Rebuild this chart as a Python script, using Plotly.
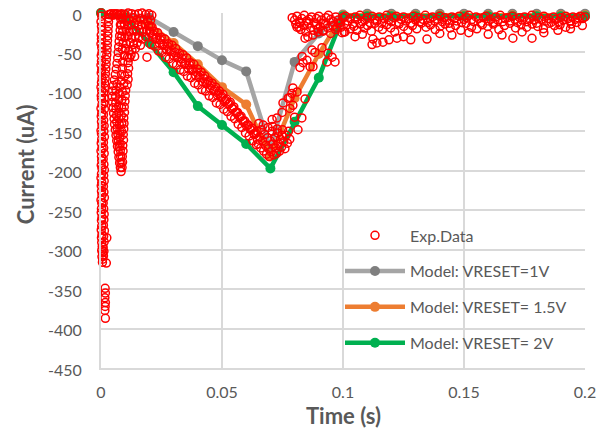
import plotly.graph_objects as go

# ---------------- Model curves ----------------
model_t = [0.00, 0.01, 0.02, 0.03, 0.04, 0.05, 0.06, 0.07, 0.08, 0.09, 0.10,
           0.11, 0.12, 0.13, 0.14, 0.15, 0.16, 0.17, 0.18, 0.19, 0.20]
model_1v = [0, -2, -6, -24, -42, -60, -74, -172, -62, -26, -2,
            -1, -1, -1, -1, -1, -1, -1, -1, -1, -1]
model_15v = [0, -4, -15, -38, -65, -94, -116, -182, -108, -52, -3,
             -3, -3, -3, -3, -3, -3, -3, -3, -3, -3]
model_2v = [0, -6, -38, -75, -118, -142, -166, -197, -138, -82, -4,
            -4, -4, -4, -4, -4, -4, -4, -4, -4, -4]

spike_t = [0.0001, 0.0003, 0.0000, 0.0002, 0.0004, 0.0001, 0.0002, 0.0000, 0.0003, 0.0004,
           0.0001, 0.0002, 0.0000, 0.0003, 0.0001, 0.0004, 0.0002, 0.0000, 0.0003, 0.0001,
           0.0002, 0.0004, 0.0000, 0.0003, 0.0001, 0.0002, 0.0004, 0.0000, 0.0002, 0.0003,
           0.0001, 0.0004, 0.0000, 0.0002, 0.0003, 0.0001, 0.0004, 0.0002, 0.0000, 0.0003,
           0.0001, 0.0002, 0.0004, 0.0000, 0.0003, 0.0002, 0.0001, 0.0004, 0.0002, 0.0003,
           0.0001, 0.0004, 0.0002, 0.0003, 0.0005, 0.0003, 0.0006, 0.0004, 0.0007, 0.0006]
spike_i = [0, -4, -11, -17, -22, -28, -33, -39, -44, -50, -54, -61, -66, -72, -76, -83, -88, -94,
           -99, -105, -109, -116, -121, -127, -131, -138, -143, -149, -153, -160, -165, -171, -175,
           -182, -187, -193, -197, -204, -209, -215, -219, -226, -231, -237, -241, -248, -253, -259,
           -263, -270, -275, -281, -285, -291, -296, -301, -304, -309, -312, -316]

spike_out_t = [0.0024, 0.0022, 0.0017, 0.0018, 0.0016, 0.0018, 0.0017, 0.0016, 0.0018]
spike_out_i = [-285, -317, -349, -355, -361, -367, -372, -377, -387]

return_t = [0.0010, 0.0012, 0.0009, 0.0013, 0.0011, 0.0014, 0.0010, 0.0012, 0.0013, 0.0011,
            0.0009, 0.0014, 0.0012, 0.0010, 0.0013, 0.0011, 0.0014, 0.0012, 0.0009, 0.0013,
            0.0011, 0.0010, 0.0014, 0.0012, 0.0013, 0.0011, 0.0010, 0.0014, 0.0012, 0.0013,
            0.0011, 0.0014, 0.0015, 0.0017, 0.0018, 0.0020, 0.0021, 0.0022, 0.0024, 0.0025,
            0.0026, 0.0027, 0.0028, 0.0029, 0.0030, 0.0031, 0.0032, 0.0033]
return_i = [-308, -302, -297, -290, -283, -276, -269, -262, -255, -248, -241, -234, -227, -220,
            -213, -206, -199, -192, -185, -178, -171, -164, -157, -150, -143, -136, -129, -122,
            -115, -108, -101, -95, -89, -83, -77, -71, -65, -59, -53, -47, -41, -35, -29, -23,
            -17, -11, -6, -2]

flat_t = [0.0036, 0.0042, 0.0048, 0.0054, 0.0060, 0.0066, 0.0072, 0.0078]
flat_i = [-2, -1, -3, -1, -2, -1, -3, -2]

dip_left_t = [0.0082, 0.0080, 0.0079, 0.0077, 0.0075, 0.0073, 0.0071, 0.0069, 0.0066, 0.0063,
              0.0059, 0.0055, 0.0051, 0.0048, 0.0047, 0.0048, 0.0050, 0.0052, 0.0054, 0.0056,
              0.0059, 0.0062, 0.0065, 0.0068, 0.0071, 0.0074, 0.0077, 0.0080, 0.0083]
dip_left_i = [-8, -15, -22, -29, -36, -43, -50, -57, -64, -71, -78, -85, -92, -99, -106, -113,
              -120, -127, -134, -141, -148, -155, -162, -169, -176, -183, -190, -196, -201]

dip_right_t = [0.0087, 0.0089, 0.0088, 0.0091, 0.0090, 0.0093, 0.0092, 0.0094, 0.0095, 0.0094,
               0.0097, 0.0096, 0.0099, 0.0100, 0.0102, 0.0108, 0.0112, 0.0110, 0.0114, 0.0112,
               0.0118]
dip_right_i = [-196, -189, -182, -175, -168, -161, -154, -147, -140, -133, -126, -119, -112,
               -105, -98, -91, -84, -77, -70, -63, -57]

dip_mid_t = [0.0090, 0.0088, 0.0085, 0.0084, 0.0078, 0.0075, 0.0073, 0.0073, 0.0074, 0.0074,
             0.0076, 0.0077, 0.0078, 0.0079, 0.0080, 0.0081, 0.0083]
dip_mid_i = [-62, -70, -78, -86, -94, -102, -110, -118, -126, -134, -142, -150, -158, -166,
             -174, -182, -190]

dip_fill_t = [0.0066, 0.0062, 0.0060, 0.0061, 0.0062, 0.0064, 0.0065, 0.0067, 0.0070, 0.0072,
              0.0075, 0.0098, 0.0094, 0.0088, 0.0086, 0.0085, 0.0084, 0.0086, 0.0085]
dip_fill_i = [-90, -98, -106, -114, -122, -130, -138, -146, -154, -162,
              -170, -80, -90, -100, -110, -120, -130, -140, -150]

cloud_t = [0.0085, 0.0098, 0.0112, 0.0126, 0.0140, 0.0155, 0.0170, 0.0184, 0.0198, 0.0210,
           0.0090, 0.0104, 0.0118, 0.0133, 0.0148, 0.0162, 0.0177, 0.0192, 0.0205,
           0.0084, 0.0097, 0.0110, 0.0124, 0.0139, 0.0153, 0.0168, 0.0182, 0.0196, 0.0211,
           0.0090, 0.0104, 0.0117, 0.0131, 0.0145, 0.0160, 0.0174, 0.0189, 0.0203,
           0.0086, 0.0099, 0.0112, 0.0127, 0.0141, 0.0156, 0.0170, 0.0185,
           0.0091, 0.0105, 0.0120, 0.0134, 0.0149, 0.0163,
           0.0088, 0.0101, 0.0115, 0.0128, 0.0142,
           0.0096, 0.0110, 0.0124, 0.0139, 0.0190]
cloud_i = [-1, -2, 0, -1, -2, -1, 0, -2, -1, -3,
           -7, -9, -8, -6, -9, -7, -8, -10, -9,
           -15, -14, -16, -15, -13, -16, -15, -14, -16, -18,
           -23, -21, -24, -22, -23, -21, -24, -22, -25,
           -30, -31, -29, -32, -30, -31, -33, -30,
           -38, -39, -37, -40, -38, -41,
           -46, -45, -48, -47, -45,
           -54, -56, -53, -55, -56]

ramp_up_t = [0.0204, 0.0219, 0.0234, 0.0249, 0.0264, 0.0279, 0.0294, 0.0309, 0.0324, 0.0339,
             0.0354, 0.0369, 0.0384, 0.0399, 0.0414, 0.0429, 0.0444, 0.0459, 0.0474, 0.0489,
             0.0504, 0.0519, 0.0534, 0.0549, 0.0564, 0.0579, 0.0594, 0.0609, 0.0624, 0.0639]
ramp_up_i = [-17, -23, -25, -31, -33, -39, -41, -45, -51, -53, -57, -63, -65, -71, -75, -80,
             -86, -89, -94, -99, -103, -109, -113, -119, -126, -131, -137, -142, -146, -152]

ramp_q_t = [0.0200, 0.0215, 0.0230, 0.0245, 0.0260, 0.0275, 0.0290, 0.0305, 0.0320, 0.0335,
            0.0350, 0.0365, 0.0380, 0.0395, 0.0410, 0.0425, 0.0440, 0.0455, 0.0470, 0.0485,
            0.0500, 0.0515, 0.0530, 0.0545, 0.0560, 0.0575, 0.0590, 0.0605, 0.0620, 0.0635]
ramp_q_i = [-23, -27, -31, -34, -39, -42, -47, -50, -55, -58, -63, -66, -71, -75, -79, -83,
            -88, -92, -97, -102, -106, -111, -115, -121, -126, -132, -138, -142, -148, -154]

ramp_mid_t = [0.0211, 0.0226, 0.0241, 0.0256, 0.0271, 0.0286, 0.0301, 0.0316, 0.0331, 0.0346,
              0.0361, 0.0376, 0.0391, 0.0406, 0.0421, 0.0436, 0.0451, 0.0466, 0.0481, 0.0496,
              0.0511, 0.0526, 0.0541, 0.0556, 0.0571, 0.0586, 0.0601, 0.0616, 0.0631, 0.0646]
ramp_mid_i = [-30, -33, -38, -41, -46, -49, -54, -57, -62, -65, -70, -73, -79, -82, -87, -90,
              -95, -99, -104, -107, -112, -116, -121, -126, -131, -137, -143, -147, -153, -160]

ramp_low_t = [0.0207, 0.0222, 0.0237, 0.0252, 0.0267, 0.0282, 0.0297, 0.0312, 0.0327, 0.0342,
              0.0357, 0.0372, 0.0387, 0.0402, 0.0417, 0.0432, 0.0447, 0.0462, 0.0477, 0.0492,
              0.0507, 0.0522, 0.0537, 0.0552, 0.0567, 0.0582, 0.0597, 0.0612, 0.0627, 0.0642]
ramp_low_i = [-40, -42, -48, -50, -56, -58, -64, -66, -72, -74, -80, -82, -89, -91, -97, -99,
              -105, -107, -114, -116, -122, -125, -131, -134, -141, -145, -152, -156, -162, -167]

valley_t = [0.0645, 0.0650, 0.0655, 0.0660, 0.0663, 0.0668, 0.0672, 0.0676, 0.0680, 0.0684,
            0.0688, 0.0692, 0.0695, 0.0699, 0.0703, 0.0707, 0.0711, 0.0714, 0.0718, 0.0722,
            0.0726, 0.0730, 0.0734, 0.0738, 0.0742, 0.0746, 0.0750, 0.0755, 0.0760, 0.0765,
            0.0770, 0.0775, 0.0780, 0.0652, 0.0670, 0.0690, 0.0709, 0.0728, 0.0748]
valley_i = [-150, -166, -157, -171, -148, -162, -175, -154, -168, -179,
            -158, -172, -182, -162, -176, -150, -166, -180, -158, -171,
            -178, -152, -166, -175, -160, -170, -148, -163, -172, -155,
            -165, -150, -160, -140, -142, -145, -144, -147, -155]

rise_t = [0.0707, 0.0727, 0.0748, 0.0752, 0.0773, 0.0789, 0.0793, 0.0810, 0.0843, 0.0793,
          0.0781, 0.0814, 0.0830, 0.0800, 0.0822, 0.0835, 0.0851, 0.0831, 0.0872, 0.0884,
          0.0864, 0.0876, 0.0938, 0.0967, 0.0955, 0.0934, 0.0913, 0.0843, 0.0855, 0.0876,
          0.0897, 0.0917, 0.0975, 0.0996, 0.1008, 0.0810, 0.0822, 0.0781]
rise_i = [-135, -133, -126, -114, -108, -102, -95, -100, -109, -117,
          -121, -148, -133, -132, -69, -63, -60, -55, -47, -50,
          -68, -68, -51, -62, -56, -62, -44, -32, -30, -28,
          -24, -22, -18, -25, -24, -18, -13, -107]

tail_t = [0.079, 0.080, 0.081, 0.082, 0.083, 0.084, 0.085, 0.086, 0.087, 0.088,
          0.089, 0.090, 0.091, 0.092, 0.093, 0.094, 0.095, 0.096, 0.097, 0.098,
          0.099, 0.100, 0.101, 0.102, 0.103, 0.104, 0.105, 0.106, 0.107, 0.108,
          0.109, 0.110, 0.111, 0.112, 0.113, 0.114, 0.115, 0.116, 0.117, 0.118,
          0.119, 0.120, 0.121, 0.122, 0.123, 0.124, 0.125, 0.126, 0.127, 0.128,
          0.129, 0.130, 0.131, 0.132, 0.133, 0.134, 0.135, 0.136, 0.137, 0.138,
          0.139, 0.140, 0.141, 0.142, 0.143, 0.144, 0.145, 0.146, 0.147, 0.148,
          0.149, 0.150, 0.151, 0.152, 0.153, 0.154, 0.155, 0.156, 0.157, 0.158,
          0.159, 0.160, 0.161, 0.162, 0.163, 0.164, 0.165, 0.166, 0.167, 0.168,
          0.169, 0.170, 0.171, 0.172, 0.173, 0.174, 0.175, 0.176, 0.177, 0.178,
          0.179, 0.180, 0.181, 0.182, 0.183, 0.184, 0.185, 0.186, 0.187, 0.188,
          0.189, 0.190, 0.191, 0.192, 0.193, 0.194, 0.195, 0.196, 0.197, 0.198,
          0.199, 0.200]
tail_i = [-6, -9, -4, -11, -7, -3, -10, -8, -5, -12,
          -7, -4, -9, -13, -6, -3, -8, -11, -5, -9,
          -12, -6, -4, -10, -7, -14, -5, -8, -3, -11,
          -9, -6, -12, -4, -8, -10, -5, -13, -7, -3,
          -9, -11, -6, -4, -12, -8, -5, -10, -7, -13,
          -4, -9, -6, -11, -8, -3, -12, -7, -5, -10,
          -8, -4, -11, -6, -9, -13, -5, -7, -10, -4,
          -12, -8, -6, -3, -9, -11, -5, -7, -13, -6,
          -4, -10, -8, -12, -5, -9, -3, -11, -7, -6,
          -10, -4, -8, -12, -6, -9, -5, -11, -7, -3,
          -9, -13, -6, -8, -4, -10, -7, -12, -5, -8,
          -11, -6, -9, -4, -7, -10, -5, -8, -6, -4,
          -7, -5]

tail2_t = [0.0805, 0.0818, 0.0826, 0.0839, 0.0847, 0.0858, 0.0866, 0.0879, 0.0888, 0.0897,
           0.0906, 0.0918, 0.0927, 0.0938, 0.0949, 0.0958, 0.0969, 0.0981, 0.0992, 0.1004,
           0.1016, 0.1031, 0.1045, 0.1058, 0.1072, 0.1088, 0.1101, 0.1117, 0.1132, 0.1148,
           0.1163, 0.1181, 0.1197, 0.1214, 0.1232, 0.1251, 0.1268, 0.1287, 0.1305, 0.1324,
           0.1343, 0.1362, 0.1381, 0.1401, 0.1422, 0.1443, 0.1465, 0.1487, 0.1509, 0.1531,
           0.1553, 0.1576, 0.1598, 0.1621, 0.1644, 0.1667, 0.1690, 0.1713, 0.1736, 0.1759,
           0.1782, 0.1805, 0.1828, 0.1851, 0.1874, 0.1897, 0.1920, 0.1943, 0.1966, 0.1989]
tail2_i = [-14, -18, -21, -16, -24, -13, -19, -22, -15, -20,
           -17, -23, -14, -19, -26, -16, -21, -13, -18, -24,
           -15, -20, -17, -22, -14, -19, -16, -23, -13, -18,
           -21, -15, -19, -24, -14, -17, -22, -16, -20, -13,
           -18, -15, -21, -17, -14, -19, -16, -22, -13, -18,
           -20, -15, -17, -14, -21, -16, -13, -19, -15, -18,
           -14, -17, -20, -13, -16, -15, -18, -14, -12, -16]

outlier_t = [0.1050, 0.1080, 0.1120, 0.1124, 0.1140, 0.1165, 0.1190, 0.1223, 0.1250, 0.1280,
             0.1347, 0.1400, 0.1450, 0.1520, 0.1600, 0.1657, 0.1702, 0.1740, 0.1781, 0.1830,
             0.1888, 0.1940]
outlier_i = [-30, -27, -40, -33, -38, -37, -34, -32, -30, -34,
             -33, -26, -28, -25, -27, -28, -32, -24, -32, -25,
             -22, -20]

x_ticks = [0, 0.05, 0.1, 0.15, 0.2]
x_tick_text = ["0", "0.05", "0.1", "0.15", "0.2"]
y_ticks = [0, -50, -100, -150, -200, -250, -300, -350, -400, -450]
y_tick_text = ["0", "-50", "-100", "-150", "-200", "-250", "-300", "-350", "-400", "-450"]

exp_t = (spike_t + spike_out_t + return_t + flat_t + dip_left_t + dip_right_t + dip_mid_t
         + dip_fill_t + cloud_t + ramp_up_t + ramp_q_t + ramp_mid_t + ramp_low_t + valley_t
         + rise_t + tail_t + tail2_t + outlier_t)
exp_i = (spike_i + spike_out_i + return_i + flat_i + dip_left_i + dip_right_i + dip_mid_i
         + dip_fill_i + cloud_i + ramp_up_i + ramp_q_i + ramp_mid_i + ramp_low_i + valley_i
         + rise_i + tail_i + tail2_i + outlier_i)

FONT = "Lato, 'Open Sans', sans-serif"
GREY_TXT = "#595959"
GRID = "#D9D9D9"

fig = go.Figure()
fig.add_trace(go.Scatter(
    x=model_t, y=model_1v, mode="lines+markers", name="Model: VRESET=1V",
    line=dict(color="#A5A5A5", width=4.5), marker=dict(color="#7F7F7F", size=10),
    legendrank=2, legendgroup="g2", cliponaxis=False))
fig.add_trace(go.Scatter(
    x=model_t, y=model_15v, mode="lines+markers", name="Model: VRESET= 1.5V",
    line=dict(color="#ED7D31", width=4.5), marker=dict(color="#ED7D31", size=10),
    legendrank=3, legendgroup="g3", cliponaxis=False))
fig.add_trace(go.Scatter(
    x=model_t, y=model_2v, mode="lines+markers", name="Model: VRESET= 2V",
    line=dict(color="#00B050", width=4.5), marker=dict(color="#00B050", size=10),
    legendrank=4, legendgroup="g4", cliponaxis=False))
fig.add_trace(go.Scatter(
    x=exp_t, y=exp_i, mode="markers", name="Exp.Data",
    marker=dict(symbol="circle-open", size=8, color="#FF0000",
                line=dict(width=1.5, color="#FF0000")),
    legendrank=1, legendgroup="g1", cliponaxis=False))

fig.update_layout(
    width=601, height=420,
    margin=dict(l=93, r=24, t=5, b=60, autoexpand=False),
    paper_bgcolor="white", plot_bgcolor="white",
    font=dict(family=FONT, color=GREY_TXT, size=16),
    showlegend=True,
    legend=dict(x=0.4938, y=0.4215, xanchor="left", yanchor="top", itemwidth=60,
                bgcolor="rgba(0,0,0,0)", font=dict(family=FONT, size=16, color=GREY_TXT),
                tracegroupgap=12),
    xaxis=dict(range=[0, 0.2], tickvals=x_ticks, ticktext=x_tick_text, automargin=False,
               showgrid=True, gridcolor=GRID, gridwidth=2, zeroline=False,
               showline=True, linecolor=GRID, linewidth=2, ticks="",
               ticklabeloverflow="allow",
               ticklabelstandoff=9, tickfont=dict(family=FONT, size=16, color=GREY_TXT)),
    yaxis=dict(range=[-450, 0], tickvals=y_ticks, ticktext=y_tick_text, automargin=False,
               showgrid=True, gridcolor=GRID, gridwidth=2, zeroline=False,
               showline=True, linecolor=GRID, linewidth=2, ticks="",
               ticklabeloverflow="allow", ticklabelshift=2,
               ticklabelstandoff=14, tickfont=dict(family=FONT, size=16, color=GREY_TXT)),
    annotations=[
        dict(text="<b>Time (s)</b>", xref="paper", yref="paper", x=0.5, y=-0.135,
             showarrow=False, font=dict(family=FONT, size=22, color=GREY_TXT),
             xanchor="center", yanchor="middle"),
        dict(text="<b>Current (uA)</b>", xref="paper", yref="paper", x=-0.157, y=0.574,
             showarrow=False, textangle=-90, font=dict(family=FONT, size=22, color=GREY_TXT),
             xanchor="center", yanchor="middle"),
    ],
)

fig.write_html("out.html")
